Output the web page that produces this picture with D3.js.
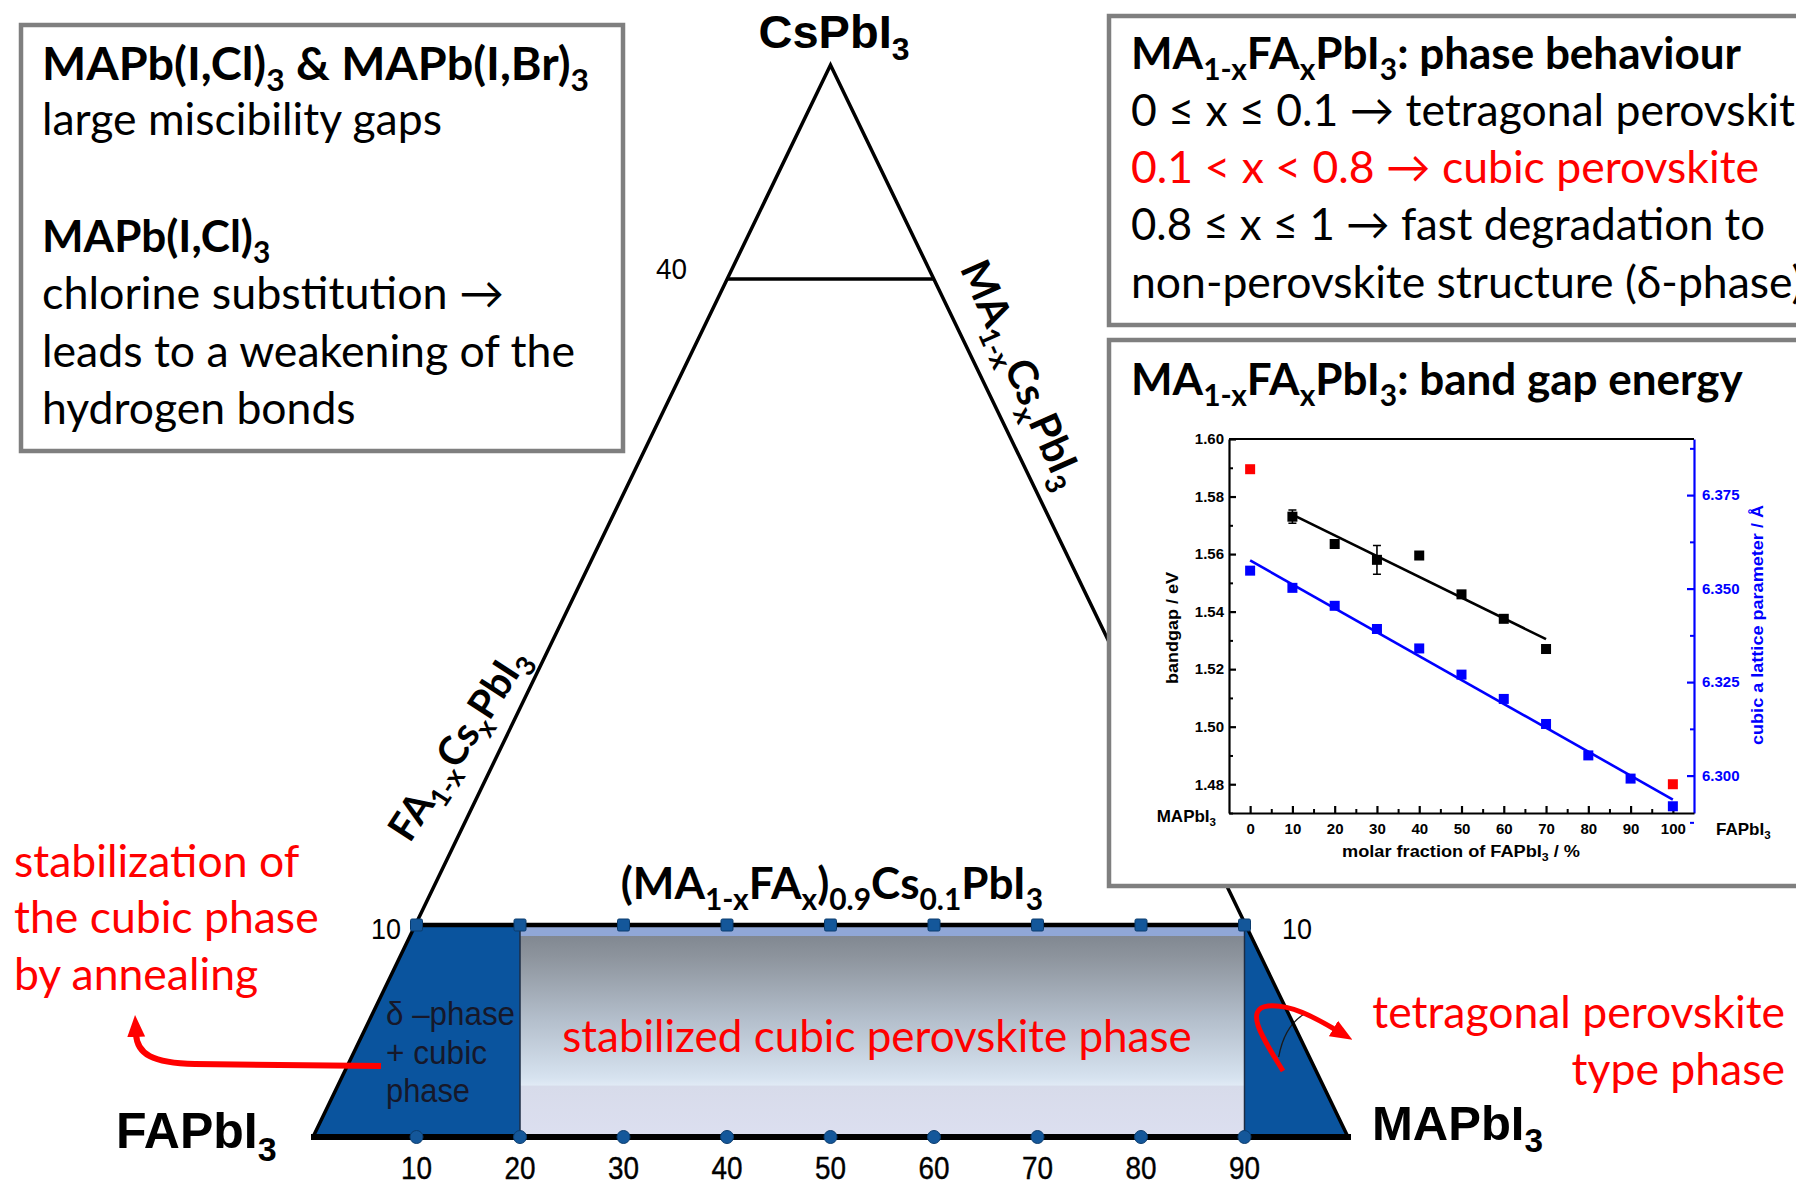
<!DOCTYPE html>
<html><head><meta charset="utf-8">
<script src="https://cdn.jsdelivr.net/npm/d3@7"></script>
<style>
html,body{margin:0;padding:0;background:#fff;overflow:hidden}
svg{display:block}
</style></head><body>
<svg id="c" width="1796" height="1187"></svg>
<script>
// ---------------- data ----------------
const compositionTicks = [10,20,30,40,50,60,70,80,90];   // MAPbI3 share along the base (%)
const csLevels = [0,10,40,100];                           // CsPbI3 share levels (%)
const csLabelLevels = [10,40];
const phaseRegions = [
  {name:"delta", from:0, to:20},
  {name:"cubic", from:20, to:90},
  {name:"tetragonal", from:90, to:100}
];
// band gap inset
const bandgapX   = [10,20,30,40,50,60,70];
const bandgapY   = [1.573,1.5635,1.558,1.5595,1.546,1.5375,1.527];
const bandgapErr = [0.0023,0.001,0.005,0.001,0.001,0.001,0.001];
const pureX      = [0,100];
const pureY      = [1.5895,1.480];
const latticeX   = [0,10,20,30,40,50,60,70,80,90,100];
const latticeA   = [6.3548,6.3502,6.3454,6.3392,6.3340,6.3270,6.3205,6.3138,6.3054,6.2992,6.2918];
const bgTicks    = [1.48,1.50,1.52,1.54,1.56,1.58,1.60];
const bgMinor    = [1.47,1.49,1.51,1.53,1.55,1.57,1.59];
const latTicks   = [6.300,6.325,6.350,6.375];
const latMinor   = [6.2875,6.3125,6.3375,6.3625,6.3875];
const fracTicks  = [0,10,20,30,40,50,60,70,80,90,100];
const fracMinor  = [5,15,25,35,45,55,65,75,85,95];

// ---------------- helpers ----------------
const svg = d3.select('#c');
const SANS = "Lato, 'Open Sans', sans-serif";
const ARIAL = "'Liberation Sans', Arial, sans-serif";

function rich(sel, segs, fs){
  let shift = 0;
  segs.forEach(([t,k]) => {
    const target = k === 'd' ? fs*0.25 : 0;
    const ts = sel.append('tspan').text(t).attr('dy', target - shift);
    if (k === 'd') ts.attr('font-size', fs*0.68);
    shift = target;
  });
  return sel;
}
function label(g, x, y, segs, o){
  const t = g.append('text').attr('x', x).attr('y', y)
    .attr('font-family', o.family || SANS).attr('font-size', o.size)
    .attr('font-weight', o.weight || 400).attr('fill', o.fill || '#000')
    .attr('text-anchor', o.anchor || 'start');
  if (typeof segs === 'string') t.text(segs); else rich(t, segs, o.size);
  if (o.len) t.attr('textLength', o.len).attr('lengthAdjust', 'spacingAndGlyphs');
  return t;
}

const defs = svg.append('defs');
const grad = defs.append('linearGradient').attr('id','cub').attr('x1',0).attr('y1',0).attr('x2',0).attr('y2',1);
[[0,'#7b828b'],[0.15,'#8d949d'],[0.45,'#b4bfcc'],[0.72,'#d6e2ef'],[0.755,'#e0eaf5'],[0.76,'#d7dbea'],[1,'#dcdff0']]
  .forEach(([o,c]) => grad.append('stop').attr('offset',o).attr('stop-color',c));
defs.append('marker').attr('id','arr').attr('viewBox','0 -10 22 20').attr('refX',3).attr('refY',0)
  .attr('markerWidth',22).attr('markerHeight',20).attr('markerUnits','userSpaceOnUse').attr('orient','auto')
  .append('path').attr('d','M0,-9L22,0L0,9Z').attr('fill','#ff0000');

// ---------------- ternary schematic ----------------
const baseX  = d3.scaleLinear().domain([0,100]).range([313,1348]);
const levelY = d3.scaleLinear().domain(csLevels).range([1137,925,279,65]);
const y0 = levelY(0), y10 = levelY(10);
const apex = [baseX(50), levelY(100)];
const edgeL = y => baseX(0) + (apex[0]-baseX(0))*(y0-y)/(y0-levelY(100));
const edgeR = y => baseX(100) - (baseX(100)-apex[0])*(y0-y)/(y0-levelY(100));

const tern = svg.append('g');
tern.selectAll('path.region').data(phaseRegions).join('path').attr('class','region')
  .attr('d', r => {
    const lt = r.from === 0 ? [edgeL(y10), y10] : [baseX(r.from), y10];
    const rt = r.to === 100 ? [edgeR(y10), y10] : [baseX(r.to), y10];
    return d3.line()([lt, rt, [baseX(r.to), y0], [baseX(r.from), y0]]) + 'Z';
  })
  .attr('fill', r => r.name === 'cubic' ? 'url(#cub)' : '#0a549e');
const cub = phaseRegions[1];
tern.append('rect').attr('x', baseX(cub.from)).attr('y', y10).attr('width', baseX(cub.to)-baseX(cub.from)).attr('height', 11)
  .attr('fill', '#90a7d7');
tern.selectAll('line.sep').data([cub.from, cub.to]).join('line').attr('class','sep')
  .attr('x1', d => baseX(d)).attr('x2', d => baseX(d)).attr('y1', y10).attr('y2', y0)
  .attr('stroke', '#1d2d45').attr('stroke-width', 1.5);
// thin tetragonal boundary curve
tern.append('path').attr('d', `M${baseX(93.3)},1057 C${baseX(93.7)},1035 ${baseX(94.6)},1021 ${baseX(95.8)},1014`)
  .attr('fill','none').attr('stroke','#1a1a1a').attr('stroke-width',1.3);

// outline
tern.append('path').attr('d', d3.line()([[baseX(0),y0], apex, [baseX(100),y0]]))
  .attr('fill','none').attr('stroke','#000').attr('stroke-width',3.5).attr('stroke-linejoin','miter');
tern.append('line').attr('x1', baseX(0)-2).attr('x2', baseX(100)+3).attr('y1', y0).attr('y2', y0)
  .attr('stroke','#000').attr('stroke-width',6);
tern.selectAll('line.lvl').data([10,40]).join('line').attr('class','lvl')
  .attr('x1', d => edgeL(levelY(d))).attr('x2', d => edgeR(levelY(d)))
  .attr('y1', d => levelY(d)).attr('y2', d => levelY(d))
  .attr('stroke','#000').attr('stroke-width', d => d === 10 ? 4.5 : 3.5);

// markers
tern.selectAll('rect.mk').data(compositionTicks).join('rect').attr('class','mk')
  .attr('x', d => baseX(d)-6).attr('y', y10-6).attr('width',12).attr('height',12).attr('rx',1.5)
  .attr('fill','#14579a').attr('stroke','#0b3c6e').attr('stroke-width',1);
tern.selectAll('circle.mk').data(compositionTicks).join('circle').attr('class','mk')
  .attr('cx', d => baseX(d)).attr('cy', y0).attr('r',6.5)
  .attr('fill','#14579a').attr('stroke','#0b3c6e').attr('stroke-width',1);

// tick labels
tern.selectAll('text.bt').data(compositionTicks).join('text').attr('class','bt')
  .attr('x', d => baseX(d)).attr('y', 1179).attr('text-anchor','middle')
  .attr('font-family', ARIAL).attr('font-size', 31).attr('textLength', 31).attr('lengthAdjust','spacingAndGlyphs')
  .attr('stroke','#000').attr('stroke-width',0.4).text(d => d);
label(tern, 371, 939, String(csLabelLevels[0]), {family:ARIAL, size:30, len:30});
label(tern, 1282, 939, String(csLabelLevels[0]), {family:ARIAL, size:30, len:30});
label(tern, 687, 279, String(csLabelLevels[1]), {family:ARIAL, size:30, anchor:'end', len:31});

// corner labels
label(tern, 834, 48, [['CsPbI','n'],['3','d']], {family:ARIAL, size:47, weight:700, anchor:'middle'});
label(tern, 116, 1148, [['FAPbI','n'],['3','d']], {family:ARIAL, size:50, weight:700});
label(tern, 1372, 1140, [['MAPbI','n'],['3','d']], {family:ARIAL, size:49, weight:700});

// edge labels
const gFA = tern.append('g').attr('transform','translate(458,744) rotate(-57)');
label(gFA, 0, 14, [['FA','n'],['1-x','d'],['Cs','n'],['x','d'],['PbI','n'],['3','d']], {size:40, weight:700, anchor:'middle'});
const gMA = tern.append('g').attr('transform','translate(1022,374) rotate(66)');
label(gMA, 0, 14, [['MA','n'],['1-x','d'],['Cs','n'],['x','d'],['PbI','n'],['3','d']], {size:41, weight:700, anchor:'middle'});

// composition line label
label(tern, 832, 899, [['(MA','n'],['1-x','d'],['FA','n'],['x','d'],[')','n'],['0.9','d'],['Cs','n'],['0.1','d'],['PbI','n'],['3','d']],
  {size:44, weight:700, anchor:'middle'});

// region texts
label(tern, 877, 1052, 'stabilized cubic perovskite phase', {size:44, fill:'#ff0000', anchor:'middle'});
[['δ –phase',129],['+ cubic',101],['phase',84]].forEach(([s,w],i) =>
  label(tern, 386, [1025,1064,1102][i], s, {family:ARIAL, size:34, fill:'#16182a', len:w}));

// ---------------- text boxes ----------------
const boxes = svg.append('g');
[[21,25,602,426],[1109,16,720,309],[1109,340,720,546]].forEach(([x,y,w,h]) =>
  boxes.append('rect').attr('x',x).attr('y',y).attr('width',w).attr('height',h)
    .attr('fill','#fff').attr('stroke','#7f7f7f').attr('stroke-width',4.5));

label(boxes, 42, 80, [['MAPb(I,Cl)','n'],['3','d'],[' & MAPb(I,Br)','n'],['3','d']], {size:45, weight:700, len:547});
label(boxes, 42, 135, 'large miscibility gaps', {size:44.5});
label(boxes, 42, 252, [['MAPb(I,Cl)','n'],['3','d']], {size:44, weight:700});
label(boxes, 42, 309, 'chlorine substitution →', {size:44.5, len:462});
label(boxes, 42, 367, 'leads to a weakening of the', {size:44.5, len:533});
label(boxes, 42, 424, 'hydrogen bonds', {size:44.5});

label(boxes, 1131, 69, [['MA','n'],['1-x','d'],['FA','n'],['x','d'],['PbI','n'],['3','d'],[': phase behaviour','n']], {size:44, weight:700});
label(boxes, 1131, 126, '0 ≤ x ≤ 0.1 → tetragonal perovskite', {size:44.5});
label(boxes, 1131, 183, '0.1 < x < 0.8  → cubic perovskite', {size:44.5, fill:'#ff0000', len:628});
label(boxes, 1131, 240, '0.8 ≤ x ≤ 1 → fast degradation to', {size:44.5, len:634});
label(boxes, 1131, 298, 'non-perovskite structure (δ-phase)', {size:44.5});
label(boxes, 1131, 395, [['MA','n'],['1-x','d'],['FA','n'],['x','d'],['PbI','n'],['3','d'],[': band gap energy','n']], {size:44, weight:700});

// ---------------- band gap inset ----------------
const inset = svg.append('g');
const x  = d3.scaleLinear().domain([-5,105]).range([1229,1694]);
const yL = d3.scaleLinear().domain([1.47,1.60]).range([813,439]);
const yR = d3.scaleLinear().domain([6.29,6.39]).range([813,439]);
const tickFont = g => g.selectAll('text').attr('font-family', ARIAL).attr('font-weight',700).attr('font-size',15);

inset.append('g').attr('transform',`translate(${x.range()[0]},0)`)
  .call(d3.axisLeft(yL).tickValues(bgMinor).tickSize(-4).tickSizeOuter(0).tickFormat(''))
  .call(g => g.select('.domain').remove()).selectAll('line').attr('stroke-width',2);
inset.append('g').attr('transform',`translate(${x.range()[0]},0)`)
  .call(d3.axisLeft(yL).tickValues(bgTicks).tickSize(-7).tickSizeOuter(0).tickPadding(5).tickFormat(d3.format('.2f')))
  .call(tickFont).call(g => g.selectAll('line,path').attr('stroke-width',2.2));
inset.append('g').attr('transform',`translate(${x.range()[1]},0)`)
  .call(d3.axisRight(yR).tickValues(latMinor).tickSize(-4).tickSizeOuter(0).tickFormat(''))
  .call(g => g.select('.domain').remove()).selectAll('line').attr('stroke','#0000ff').attr('stroke-width',2);
inset.append('g').attr('transform',`translate(${x.range()[1]},0)`)
  .call(d3.axisRight(yR).tickValues(latTicks).tickSize(-7).tickSizeOuter(0).tickPadding(8).tickFormat(d3.format('.3f')))
  .call(tickFont).call(g => { g.selectAll('line,path').attr('stroke','#0000ff').attr('stroke-width',2.2); g.selectAll('text').attr('fill','#0000ff'); });
inset.append('g').attr('transform',`translate(0,${yL.range()[0]})`)
  .call(d3.axisBottom(x).tickValues(fracMinor).tickSize(-4).tickSizeOuter(0).tickFormat(''))
  .call(g => g.select('.domain').remove()).selectAll('line').attr('stroke-width',2);
inset.append('g').attr('transform',`translate(0,${yL.range()[0]})`)
  .call(d3.axisBottom(x).tickValues(fracTicks).tickSize(-7).tickSizeOuter(0).tickPadding(10))
  .call(tickFont).call(g => g.selectAll('line,path').attr('stroke-width',2.2));
inset.append('line').attr('x1',x.range()[0]).attr('x2',x.range()[1]).attr('y1',yL.range()[1]).attr('y2',yL.range()[1])
  .attr('stroke','#000').attr('stroke-width',2.2);

// least squares fit lines
function fit(xs, ys){
  const mx = d3.mean(xs), my = d3.mean(ys);
  const b = d3.sum(xs, (v,i) => (v-mx)*(ys[i]-my)) / d3.sum(xs, v => (v-mx)*(v-mx));
  return v => my + b*(v-mx);
}
const fBg = fit(bandgapX, bandgapY), fLat = fit(latticeX, latticeA);
inset.append('line').attr('x1', x(10)).attr('x2', x(70)).attr('y1', yL(fBg(10))).attr('y2', yL(fBg(70)))
  .attr('stroke','#000').attr('stroke-width',2.6);
inset.append('line').attr('x1', x(0)).attr('x2', x(100)).attr('y1', yR(fLat(0))).attr('y2', yR(fLat(100)))
  .attr('stroke','#0000ff').attr('stroke-width',2.6);

// error bars
bandgapX.forEach((v,i) => {
  const e = bandgapErr[i]; if (e < 0.002) return;
  const cx = x(v), a = yL(bandgapY[i]-e), b = yL(bandgapY[i]+e);
  inset.append('path').attr('d', `M${cx},${a}V${b}M${cx-4},${a}H${cx+4}M${cx-4},${b}H${cx+4}`)
    .attr('stroke','#000').attr('stroke-width',1.6).attr('fill','none');
});
const sq = (sel, xs, ys, sc, col) => sel.selectAll(null).data(xs).join('rect')
  .attr('x', (d) => x(d)-5).attr('y', (d,i) => sc(ys[i])-5).attr('width',10).attr('height',10).attr('fill', col);
sq(inset, latticeX, latticeA, yR, '#0000ff');
sq(inset, bandgapX, bandgapY, yL, '#000');
sq(inset, pureX, pureY, yL, '#ff0000');

label(inset, 1216, 822, [['MAPbI','n'],['3','d']], {family:ARIAL, size:17, weight:700, anchor:'end'});
label(inset, 1716, 835, [['FAPbI','n'],['3','d']], {family:ARIAL, size:17, weight:700});
label(inset, 1461, 857, [['molar fraction of FAPbI','n'],['3','d'],[' / %','n']], {family:ARIAL, size:16, weight:700, anchor:'middle', len:238});
const gy = inset.append('g').attr('transform','translate(1178,628) rotate(-90)');
label(gy, 0, 0, 'bandgap / eV', {family:ARIAL, size:17, weight:700, anchor:'middle', len:112});
const gy2 = inset.append('g').attr('transform','translate(1763,625) rotate(-90)');
label(gy2, 0, 0, 'cubic a lattice parameter / Å', {family:ARIAL, size:17, weight:700, anchor:'middle', fill:'#0000ff', len:240});

// ---------------- annotations ----------------
const ann = svg.append('g');
['stabilization of','the cubic phase','by annealing'].forEach((s,i) =>
  label(ann, 14, [877,933,990][i], s, {size:44.5, fill:'#ff0000'}));
label(ann, 1785, 1028, 'tetragonal perovskite', {size:44.5, fill:'#ff0000', anchor:'end'});
label(ann, 1785, 1085, 'type phase', {size:44.5, fill:'#ff0000', anchor:'end'});
ann.append('path').attr('d','M381,1066 L195,1064 C152,1063 137,1054 136,1034')
  .attr('fill','none').attr('stroke','#ff0000').attr('stroke-width',6).attr('marker-end','url(#arr)');
ann.append('path').attr('d','M1283,1071 C1266,1043 1242,1009 1268,1006 C1290,1004 1314,1017 1336,1030')
  .attr('fill','none').attr('stroke','#ff0000').attr('stroke-width',5).attr('marker-end','url(#arr)');
</script>
</body></html>
